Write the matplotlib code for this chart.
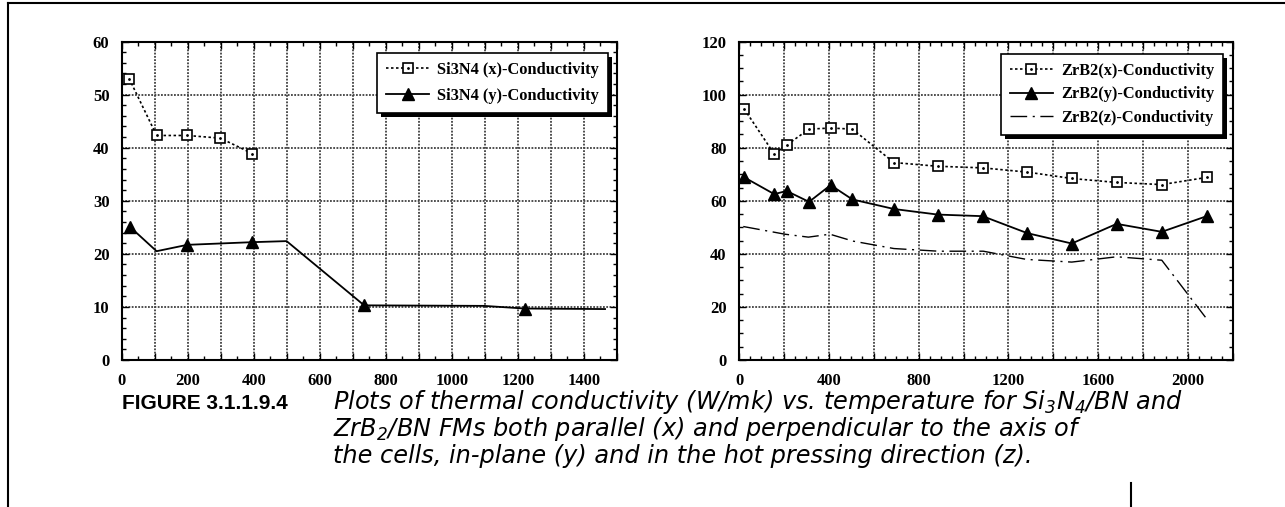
import matplotlib
matplotlib.use("Agg")
import matplotlib.pyplot as plt
import matplotlib.patheffects as pe
from matplotlib.ticker import MultipleLocator, FuncFormatter
from matplotlib.legend_handler import HandlerTuple
from matplotlib.lines import Line2D
from matplotlib.font_manager import FontProperties

# Si3N4/BN data
si_x_temp = [22, 105, 198, 298, 395]
si_x_cond = [53.0, 42.3, 42.3, 41.8, 38.9]

si_y_temp = [24, 105, 198, 395, 499, 734, 1097, 1220, 1464]
si_y_cond = [25.1, 20.5, 21.7, 22.2, 22.4, 10.3, 10.2, 9.7, 9.6]
si_y_marked = [0, 2, 3, 5, 7]

# ZrB2/BN data
zr_temp = [24, 157, 212, 312, 408, 505, 690, 885, 1085, 1284, 1482, 1682, 1883, 2083]
zr_x_cond = [94.5, 77.6, 81.0, 87.0, 87.4, 87.0, 74.4, 73.0, 72.4, 70.8, 68.4, 66.9, 66.1, 68.8]
zr_y_cond = [68.8, 62.5, 63.7, 59.6, 65.9, 60.5, 56.9, 54.8, 54.2, 47.8, 43.9, 51.3, 48.3, 54.2]

zr_z_temp = [19, 205, 309, 405, 508, 690, 888, 1088, 1281, 1482, 1682, 1883, 2083]
zr_z_cond = [50.3, 47.4, 46.3, 47.4, 44.8, 42.0, 41.0, 41.0, 37.9, 36.9, 38.9, 37.6, 15.5]

tick_font = dict(family="Liberation Serif", weight="bold", size=12)
leg_font = dict(family="Liberation Serif", weight="bold", size=11.8)

sq_style = dict(color="black", linestyle=(0, (1.5, 1.5)), linewidth=1.2, marker="s",
                markersize=6.5, markerfacecolor="white", markeredgecolor="black",
                markeredgewidth=1.2)
dot_style = dict(linestyle="none", marker=".", markersize=2, color="black")
tri_style = dict(color="black", linewidth=1.3, marker="^", markersize=8)


def style_axes(ax, xmax, xmajor, xlabel_step, xminor, ymax, ymajor, yminor):
    ax.set_xlim(0, xmax)
    ax.set_ylim(0, ymax)
    ax.xaxis.set_major_locator(MultipleLocator(xmajor))
    ax.xaxis.set_minor_locator(MultipleLocator(xminor))
    ax.yaxis.set_major_locator(MultipleLocator(ymajor))
    ax.yaxis.set_minor_locator(MultipleLocator(yminor))
    ax.xaxis.set_major_formatter(FuncFormatter(
        lambda v, p: "%d" % v if round(v) % xlabel_step == 0 and v < xmax else ""))
    ax.yaxis.set_major_formatter(FuncFormatter(lambda v, p: "%d" % v))
    ax.grid(True, which="major", color="0.25", linestyle=(0, (1, 0.8)), linewidth=1.3)
    ax.tick_params(which="both", direction="in", top=True, right=True, width=1.0)
    ax.tick_params(which="major", length=5)
    ax.tick_params(which="minor", length=3)
    ax.tick_params(axis="x", pad=9)
    ax.tick_params(axis="y", pad=9)
    for lab in ax.get_xticklabels() + ax.get_yticklabels():
        lab.set_fontproperties(FontProperties(**tick_font))
    for sp in ax.spines.values():
        sp.set_linewidth(1.5)


def make_legend(ax, handles, labels, anchor, spacing):
    leg = ax.legend(handles, labels, handler_map={tuple: HandlerTuple(ndivide=1)},
                    loc="upper right", bbox_to_anchor=anchor, borderaxespad=0,
                    prop=leg_font, fancybox=False, edgecolor="black", framealpha=1,
                    handlelength=2.6, borderpad=0.55, labelspacing=spacing,
                    handletextpad=0.5)
    frame = leg.get_frame()
    frame.set_linewidth(1.2)
    frame.set_path_effects([pe.SimplePatchShadow(offset=(3, -3), shadow_rgbFace="black",
                                                 alpha=1), pe.Normal()])
    return leg


fig = plt.figure(figsize=(12.85, 5.07), dpi=100)
ax1 = fig.add_axes([0.0949, 0.2899, 0.3852, 0.6282])
ax2 = fig.add_axes([0.5751, 0.2899, 0.3844, 0.6282])

# left panel
l1, = ax1.plot(si_x_temp, si_x_cond, **sq_style)
d1, = ax1.plot(si_x_temp, si_x_cond, **dot_style)
l2, = ax1.plot(si_y_temp, si_y_cond, markevery=si_y_marked, **tri_style)
style_axes(ax1, 1500, 100, 200, 50, 60, 10, 2)
make_legend(ax1, [(l1, d1), Line2D([], [], **tri_style)],
            ["Si3N4 (x)-Conductivity", "Si3N4 (y)-Conductivity"], (0.982, 0.964), 0.6)

# right panel
m1, = ax2.plot(zr_temp, zr_x_cond, **sq_style)
e1, = ax2.plot(zr_temp, zr_x_cond, **dot_style)
m2, = ax2.plot(zr_temp, zr_y_cond, **tri_style)
m3, = ax2.plot(zr_z_temp, zr_z_cond, color="black", linewidth=1.0,
               linestyle=(0, (12, 4, 1.5, 4)))
style_axes(ax2, 2200, 200, 400, 50, 120, 20, 5)
make_legend(ax2, [(m1, e1), m2, m3],
            ["ZrB2(x)-Conductivity", "ZrB2(y)-Conductivity", "ZrB2(z)-Conductivity"],
            (0.98, 0.961), 0.45)

# page frame lines
fig.add_artist(Line2D([8 / 1285, 1], [1 - 3 / 507, 1 - 3 / 507], color="black", lw=1.5))
fig.add_artist(Line2D([8 / 1285, 8 / 1285], [0, 1 - 3 / 507], color="black", lw=1.5))
fig.add_artist(Line2D([1131 / 1285, 1131 / 1285], [0, 24 / 507], color="black", lw=1.5))

# caption
plt.rcParams["mathtext.fontset"] = "custom"
plt.rcParams["mathtext.rm"] = "DejaVu Sans:italic"
plt.rcParams["mathtext.it"] = "DejaVu Sans:italic"
fig.text(122 / 1285, 1 - 409 / 507, "FIGURE 3.1.1.9.4", family="Liberation Sans",
         weight="bold", size=15, va="baseline")
cap_lines = [
    r"Plots of thermal conductivity (W/mk) vs. temperature for Si$_3$N$_4$/BN and",
    r"ZrB$_2$/BN FMs both parallel (x) and perpendicular to the axis of",
    r"the cells, in-plane (y) and in the hot pressing direction (z).",
]
for i, line in enumerate(cap_lines):
    fig.text(333 / 1285, 1 - (409 + 27 * i) / 507, line, family="DejaVu Sans",
             style="italic", size=17.3, va="baseline")

fig.savefig("out.png", dpi=100)
